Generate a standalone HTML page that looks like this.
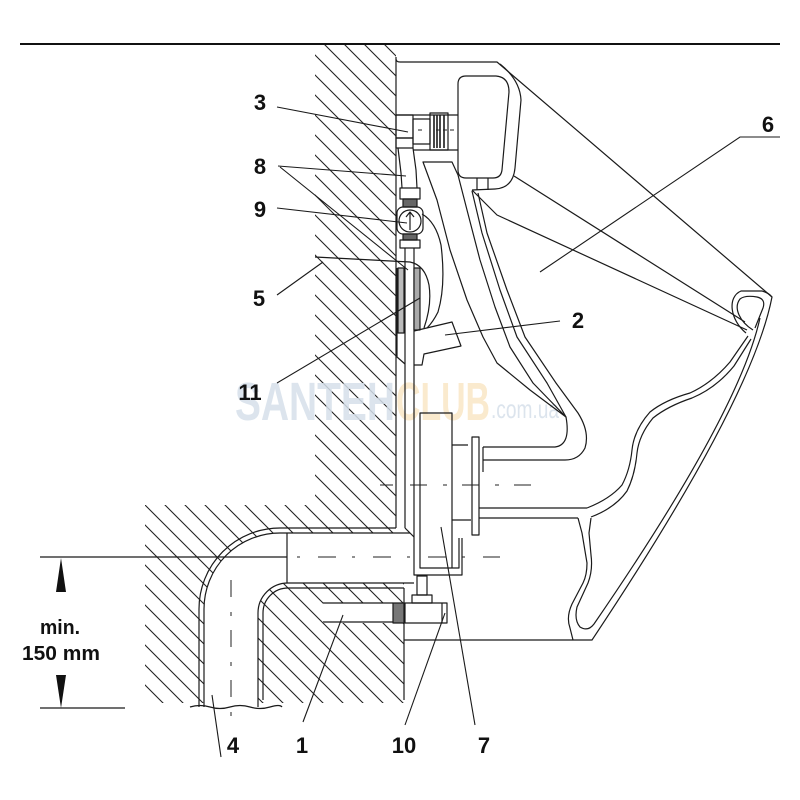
<!DOCTYPE html>
<html><head><meta charset="utf-8">
<style>
html,body{margin:0;padding:0;background:#fff;}
svg{display:block;}
.lb{font-family:"Liberation Sans",sans-serif;font-weight:bold;fill:#111;}
</style></head><body>
<svg width="800" height="800" viewBox="0 0 800 800" xmlns="http://www.w3.org/2000/svg">
<defs>
<pattern id="h" patternUnits="userSpaceOnUse" width="20" height="20">
<path d="M-5,-5L25,25M-5,15L5,25M15,-5L25,5" stroke="#222" stroke-width="1.1" fill="none"/>
</pattern>
</defs>
<rect width="800" height="800" fill="#fff"/>

<!-- hatching -->
<path d="M315,45 L396,45 L396,533 L404,533 L404,703 L145,703 L145,505 L315,505 Z" fill="url(#h)"/>
<path d="M204,712 L204,609 A76,76 0 0 1 280,533 L414,533 L414,583 L288,583 A30,30 0 0 0 258,613 L258,712 Z" fill="#fff"/>
<rect x="323" y="603" width="124" height="20" fill="#fff"/>

<!-- watermark -->
<g opacity="0.85">
<text x="235" y="420" font-family="Liberation Sans,sans-serif" font-weight="bold" font-size="54" fill="#d6e0ea" textLength="160" lengthAdjust="spacingAndGlyphs">SANTEH</text>
<text x="396" y="420" font-family="Liberation Sans,sans-serif" font-weight="bold" font-size="54" fill="#fae7c6" textLength="94" lengthAdjust="spacingAndGlyphs">CLUB</text>
<text x="491" y="418" font-family="Liberation Sans,sans-serif" font-size="26" fill="#d6e0ea" textLength="68" lengthAdjust="spacingAndGlyphs">.com.ua</text>
</g>

<line x1="20" y1="44" x2="780" y2="44" stroke="#111" stroke-width="2"/>

<g fill="none" stroke="#1a1a1a" stroke-width="1.2" stroke-linejoin="round">
<!-- wall -->
<path d="M396,57 L396,528"/>
<!-- pipe bend -->
<path d="M199,707 L199,609 A81,81 0 0 1 280,528 L396,528"/>
<path d="M204,707 L204,609 A76,76 0 0 1 280,533 L410,533"/>
<path d="M258,707 L258,613 A30,30 0 0 1 288,583 L414,583"/>
<path d="M263,700 L263,613 A25,25 0 0 1 288,588 L404,588"/>
<path d="M287,533 L287,583"/>
<path d="M190,707 q10,-3 20,0 t20,0 t20,0 t20,0 t12,0"/>
<path d="M404,588 L404,700"/>
<path d="M405,528 L414,537"/>

<!-- ceramic outer -->
<path d="M396,59 Q396,62 400,62 L497,62 L772,297 Q752,400 592,640 L404,640"/>
<!-- rim loop -->
<path d="M746,333 C730,320 727,297 741,291 L762,291 Q769,293 772,297"/>
<path d="M753,330 C740,322 733,308 740,299 Q745,295 757,297 Q766,299 763,308 L755,328"/>
<!-- inner shell front -->
<path d="M760,318 Q739,413 594,624 Q588,632 580,627 Q574,620 577,607 L588,583 Q593,570 591,555 L589,533 L591,518"/>
<path d="M578,518 L582,533 L587,563 Q587,575 583,583 L572,604 Q566,617 570,628 L573,640"/>
<!-- bowl front surface -->
<path d="M587,508 Q610,499 622,485 Q630,470 632,450 Q634,430 650,412 Q665,400 690,393 Q712,383 730,362 L748,336"/>
<path d="M591,517 Q615,508 627,491 Q635,475 637,453 Q639,435 653,418 Q668,406 692,398 Q716,388 734,366 L751,339"/>
<!-- outlet -->
<path d="M479,508 L587,508"/>
<path d="M479,518 L578,518"/>
<path d="M483,447 L555,447 Q571,445 566,417"/>
<path d="M483,447 L483,472"/>
<rect x="472" y="437" width="7" height="98"/>
<path d="M452,445 L468,445 M452,520 L471,520"/>
<!-- rear wall B -->
<path d="M472,191 L482,233 L500,290 L517,337 L547,383 L566,417"/>
<path d="M478,193 L487,233 L507,290 L525,337 L556,383 L578,413 Q590,432 585,448 Q579,460 565,460 L483,460"/>
<!-- band A -->
<path d="M423,162 L452,162 L458,175 L467,210 L480,260 L495,307 L510,347 L533,383 L566,417 L530,390 L497,363 L483,337 L467,300 L450,250 L437,200 Z"/>
<!-- rounded rect chamber -->
<path d="M458,84 Q458,76 466,76 L496,76 Q509,77 509,92 L502,170 Q501,178 493,178 L466,178 Q458,178 458,170 Z"/>
<path d="M500,64 Q520,80 521,100 L515,168 Q513,188 495,189 L472,190"/>
<path d="M477,178 L477,190 M488,178 L488,190"/>
<!-- bowl inner lines -->
<path d="M472,190 L497,215 L747,330"/>
<path d="M514,176 L745,322"/>

<!-- inlet fitting -->
<path d="M396,115 L458,115"/>
<path d="M413,150 L458,150"/>
<rect x="396" y="115" width="17" height="23"/>
<rect x="396" y="138" width="17" height="10"/>
<rect x="413" y="119" width="17" height="25"/>
<rect x="430" y="113" width="18" height="37"/>
<path d="M434,115 L434,148 M437,115 L437,148 M440,115 L440,148 M444,115 L444,148" stroke-width="1.6"/>
<!-- flush pipe -->
<path d="M398,148 L401,173 L402,188"/>
<path d="M413,148 L416,170 L417,188"/>
<rect x="400" y="188" width="20" height="11"/>
<rect x="403" y="199" width="14" height="8" fill="#666"/>
<rect x="397" y="207" width="26" height="27" rx="6"/>
<circle cx="410" cy="221" r="11"/>
<path d="M410,230 L410,212 M406,217 L410,212 L414,217"/>
<rect x="403" y="234" width="14" height="6" fill="#666"/>
<rect x="400" y="240" width="20" height="8"/>
<path d="M405,248 L405,528"/>
<path d="M414,248 L414,575 L462,575 L462,538"/>
<path d="M459,538 L459,568 L420,568 L420,413 L452,413 L452,568"/>
<!-- element 11 -->
<rect x="398" y="268" width="6" height="65" fill="#bbb"/>
<rect x="414" y="268" width="6" height="62" fill="#aaa"/>
<path d="M397,268 L397,357 L405,364"/>
<!-- curves -->
<path d="M315,257 L410,262 Q425,265 429,285 Q432,305 424,328"/>
<path d="M422,214 Q436,222 441,245 Q446,285 438,312 Q433,322 427,328"/>
<!-- nozzle 2 -->
<path d="M414,331 L452,322 L461,346 L424,354 L422,365 L414,365"/>

<!-- bolt 10 / bar 1 -->
<rect x="417" y="576" width="10" height="19"/>
<rect x="412" y="595" width="20" height="8"/>
<rect x="405" y="603" width="42" height="20"/>
<path d="M442,603 L442,623"/>
<rect x="393" y="603" width="11" height="20" fill="#777"/>
<path d="M323,603 L393,603 M323,622 L393,622"/>

<!-- dimension -->
<path d="M40,557 L287,557"/>
<path d="M40,708 L125,708"/>
</g>
<polygon points="61,558 56,592 66,592" fill="#111"/>
<polygon points="61,708 56,675 66,675" fill="#111"/>

<!-- dashed center lines -->
<g fill="none" stroke="#222" stroke-width="1">
<path d="M297,557 L500,557" stroke-dasharray="3 18 18 16"/>
<path d="M380,485 L393,485"/>
<path d="M410,485 L540,485" stroke-dasharray="17 16 4 15"/>
<path d="M231,580 L231,725" stroke-dasharray="17 15 4 14"/>
<path d="M418,130 L422,130 M436,130 L456,130" stroke-dasharray="4 3"/>
</g>

<!-- leaders -->
<g fill="none" stroke="#1a1a1a" stroke-width="1.1">
<path d="M277,107 L408,132"/>
<path d="M278,166 L406,176"/>
<path d="M280,167 L408,270"/>
<path d="M277,208 L407,223"/>
<path d="M277,295 L323,262"/>
<path d="M277,383 L420,298"/>
<path d="M780,137 L740,137 L540,272"/>
<path d="M560,321 L445,335"/>
<path d="M212,695 L221,757"/>
<path d="M343,615 L303,722"/>
<path d="M445,613 L405,725"/>
<path d="M441,527 L475,725"/>
</g>

<!-- labels -->
<g class="lb" font-size="22" text-anchor="middle">
<text x="260" y="110">3</text>
<text x="260" y="174">8</text>
<text x="260" y="217">9</text>
<text x="259" y="306">5</text>
<text x="250" y="400">11</text>
<text x="768" y="132">6</text>
<text x="578" y="328">2</text>
<text x="233" y="753">4</text>
<text x="302" y="753">1</text>
<text x="404" y="753">10</text>
<text x="484" y="753">7</text>
</g>
<text class="lb" x="40" y="634" font-size="20" textLength="40" lengthAdjust="spacingAndGlyphs">min.</text>
<text class="lb" x="22" y="660" font-size="20" textLength="78" lengthAdjust="spacingAndGlyphs">150 mm</text>
</svg>
</body></html>
